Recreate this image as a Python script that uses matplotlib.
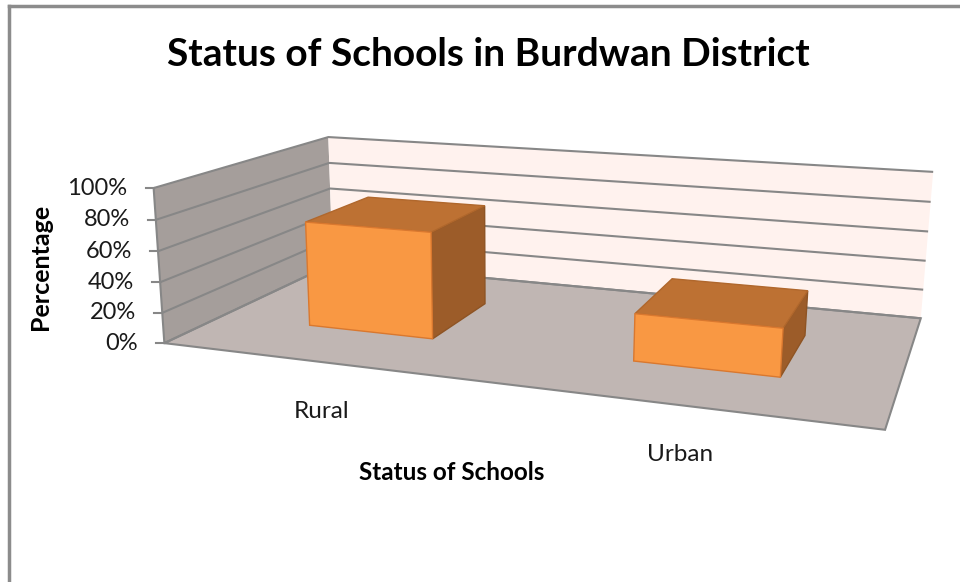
import numpy as np
import matplotlib.pyplot as plt
from matplotlib.patches import Polygon

# Data
categories = ["Rural", "Urban"]
percent = [70, 30]
yticks = [0, 20, 40, 60, 80, 100]

plt.rcParams["font.family"] = ["Lato", "DejaVu Sans"]

# Fit a perspective camera to the box corners seen in the chart
# world coords: x = category axis (0..2), y = depth (0..1), z = value (0..100)
world = np.array([
    [0, 0, 0], [0, 0, 100], [0, 1, 0], [0, 1, 100],
    [2, 1, 0], [2, 1, 100], [2, 0, 0],
], dtype=float)
screen = np.array([
    [165, 343], [153, 188], [332, 264], [329, 137],
    [921, 318], [933, 172], [885, 430],
], dtype=float)

rows = []
for (X, Y, Z), (u, v) in zip(world, screen):
    rows.append([X, Y, Z, 1, 0, 0, 0, 0, -u * X, -u * Y, -u * Z, -u])
    rows.append([0, 0, 0, 0, X, Y, Z, 1, -v * X, -v * Y, -v * Z, -v])
_, _, vt = np.linalg.svd(np.array(rows))
P = vt[-1].reshape(3, 4)


def proj(pts):
    pts = np.atleast_2d(np.asarray(pts, dtype=float))
    h = np.hstack([pts, np.ones((len(pts), 1))]) @ P.T
    return h[:, :2] / h[:, 2:3]


fig = plt.figure(figsize=(9.6, 5.82), dpi=100)
ax = fig.add_axes([0, 0, 1, 1])
ax.set_xlim(0, 960)
ax.set_ylim(582, 0)
ax.axis("off")

edge = "#878787"

# walls and floor
left_wall = proj([[0, 0, 0], [0, 0, 100], [0, 1, 100], [0, 1, 0]])
back_wall = proj([[0, 1, 0], [0, 1, 100], [2, 1, 100], [2, 1, 0]])
floor = proj([[0, 0, 0], [0, 1, 0], [2, 1, 0], [2, 0, 0]])
ax.add_patch(Polygon(left_wall, closed=True, fc="#A59E9B", ec="none", zorder=1))
ax.add_patch(Polygon(back_wall, closed=True, fc="#FFF2EE", ec="none", zorder=1))
ax.add_patch(Polygon(floor, closed=True, fc="#C0B6B3", ec=edge, lw=1.5, zorder=1))

# gridlines
for t in yticks:
    pts = proj([[0, 0, t], [0, 1, t], [2, 1, t]])
    ax.plot(pts[:, 0], pts[:, 1], color=edge, lw=1.5, solid_capstyle="butt", zorder=2)
    ax.plot([pts[0, 0] - 8, pts[0, 0]], [pts[0, 1], pts[0, 1]], color=edge, lw=1.5, zorder=2)
    ax.text(pts[0, 0] - 26, pts[0, 1], f"{t}%", ha="right", va="center",
            fontsize=17, color="#1a1a1a")
axis_line = proj([[0, 0, 0], [0, 0, 100]])
ax.plot(axis_line[:, 0], axis_line[:, 1], color=edge, lw=1.5, zorder=2)

# bars
bar_w = 0.4
d0, d1 = 0.3, 0.7
for i, val in enumerate(percent):
    x0 = i + 0.5 - bar_w / 2
    x1 = i + 0.5 + bar_w / 2
    front = proj([[x0, d0, 0], [x0, d0, val], [x1, d0, val], [x1, d0, 0]])
    top = proj([[x0, d0, val], [x0, d1, val], [x1, d1, val], [x1, d0, val]])
    side = proj([[x1, d0, 0], [x1, d0, val], [x1, d1, val], [x1, d1, 0]])
    ax.add_patch(Polygon(side, closed=True, fc="#9C5C29", ec="#8E5424", lw=1, zorder=3))
    ax.add_patch(Polygon(top, closed=True, fc="#BD7133", ec="#B0672C", lw=1, zorder=3))
    ax.add_patch(Polygon(front, closed=True, fc="#F99843", ec="#D9782F", lw=1, zorder=3))

    lab = proj([[i + 0.5, 0, 0]])[0]
    ax.text(lab[0] + 2, lab[1] + 50, categories[i], ha="center", va="center",
            fontsize=17.5, color="#1a1a1a")

# titles
ax.text(488, 55, "Status of Schools in Burdwan District", ha="center",
        va="center", fontsize=28, fontweight="bold", color="black")
ax.text(452, 472, "Status of Schools", ha="center", va="center",
        fontsize=17.5, fontweight="bold", color="black")
ax.text(40, 267, "Percentage", ha="center", va="center", rotation=90,
        fontsize=18, fontweight="bold", color="black")

# chart border (only top and left show in the crop)
ax.plot([9, 960], [6, 6], color="#8C8C8C", lw=2.5)
ax.plot([9, 9], [6, 582], color="#8C8C8C", lw=2.5)

plt.savefig("out.png", dpi=100)
